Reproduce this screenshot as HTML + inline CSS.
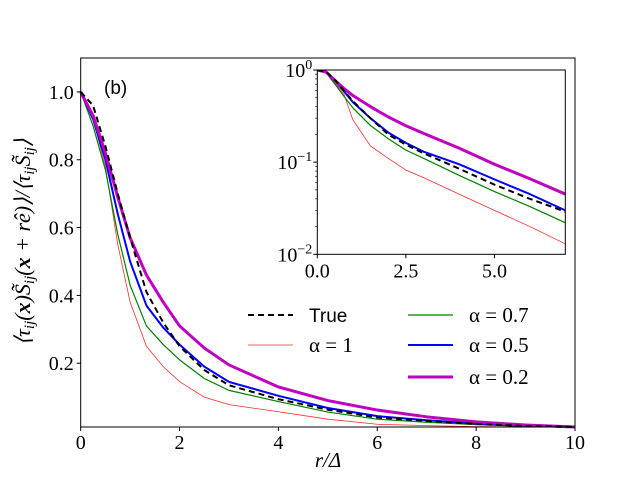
<!DOCTYPE html>
<html><head><meta charset="utf-8"><style>
body{margin:0;background:#fff}
svg{display:block;font-family:"Liberation Serif",serif}
</style></head><body>
<svg id="chart" width="640" height="480" xmlns="http://www.w3.org/2000/svg"></svg>
<script>
const rVals=[0,0.25,0.5,0.75,1,1.33,1.67,2,2.5,3,4,5,6,7,8,9,10];
const trueVals=[1,0.96,0.84,0.70,0.57,0.41,0.32,0.25,0.18,0.135,0.094,0.063,0.04,0.03,0.021,0.015,0.012];
const a1Vals=[1,0.92,0.78,0.55,0.38,0.25,0.19,0.146,0.10,0.078,0.057,0.035,0.02,0.016,0.013,0.012,0.012];
const a07Vals=[1,0.90,0.77,0.58,0.43,0.31,0.255,0.21,0.155,0.12,0.087,0.056,0.035,0.026,0.019,0.014,0.012];
const a05Vals=[1,0.92,0.80,0.64,0.50,0.37,0.305,0.255,0.19,0.145,0.104,0.068,0.044,0.032,0.022,0.016,0.012];
const a02Vals=[1,0.93,0.82,0.69,0.57,0.46,0.38,0.31,0.245,0.195,0.13,0.09,0.062,0.042,0.027,0.018,0.012];
const insetR=[0,0.25,0.5,0.75,1,1.5,2,2.5,3,4,5,6,7];
const insetTrue=[1,0.96,0.78,0.60,0.46,0.30,0.20,0.155,0.125,0.085,0.057,0.040,0.029];
const insetA1=[1,0.93,0.72,0.55,0.29,0.15,0.11,0.082,0.068,0.045,0.030,0.020,0.013];
const insetA07=[1,0.93,0.70,0.52,0.39,0.25,0.18,0.135,0.11,0.072,0.048,0.033,0.022];
const insetA05=[1,0.94,0.76,0.59,0.45,0.30,0.21,0.162,0.13,0.095,0.065,0.045,0.030];
const insetA02=[1,0.95,0.77,0.63,0.53,0.40,0.31,0.248,0.205,0.142,0.095,0.066,0.045];
const xTicks=[0,2,4,6,8,10];
const yTicks=[0.2,0.4,0.6,0.8,1.0];
const insetXTicks=[0,2.5,5];
const insetYTicks=[0,-1,-2];

const svg=document.getElementById('chart');
const NS='http://www.w3.org/2000/svg';
function mk(tag,attrs,parent){const e=document.createElementNS(NS,tag);for(const k in attrs)e.setAttribute(k,attrs[k]);(parent||svg).appendChild(e);return e;}
const L=80.7,R=575,T=58,B=427;
const X=v=>L+(v-0)/(10-0)*(R-L);
const Y=v=>B-(v-0.012)/(1.10-0.012)*(B-T);
const iL=317.3,iR=565.3,iT=70,iB=254.3;
const IX=v=>iL+v/7*(iR-iL);
const IY=v=>iT+(-Math.log10(Math.max(v,1e-4)))/2*(iB-iT);

const series=[
 {vals:a1Vals,ivals:insetA1,color:'#ff2a2a',w:0.8,dash:null,name:'series-alpha-1'},
 {vals:a07Vals,ivals:insetA07,color:'#008000',w:1.2,dash:null,name:'series-alpha-0-7'},
 {vals:a05Vals,ivals:insetA05,color:'#0000ff',w:2,dash:null,name:'series-alpha-0-5'},
 {vals:a02Vals,ivals:insetA02,color:'#bf00bf',w:3,dash:null,name:'series-alpha-0-2'},
 {vals:trueVals,ivals:insetTrue,color:'#000',w:2,dash:'6,4',name:'series-true'}
];
const mainG=mk('g',{});


series.forEach(s=>{
 const p=mk('polyline',{points:rVals.map((r,i)=>X(r)+','+Y(s.vals[i])).join(' '),fill:'none',stroke:s.color,'stroke-width':s.w,'stroke-linejoin':'round'},mainG);
 if(s.dash)p.setAttribute('stroke-dasharray',s.dash);
 
 
});
const frame=mk('rect',{x:L,y:T,width:R-L,height:B-T,fill:'none',stroke:'#000','stroke-width':1});


xTicks.forEach(t=>{
 mk('line',{x1:X(t),x2:X(t),y1:B,y2:B+4,stroke:'#000'});
 const tx=mk('text',{x:X(t),y:B+22,'text-anchor':'middle','font-size':20},svg);tx.textContent=t;
 
 
});
yTicks.forEach(t=>{
 mk('line',{x1:L-4,x2:L,y1:Y(t),y2:Y(t),stroke:'#000'});
 const tx=mk('text',{x:L-7,y:Y(t)+7,'text-anchor':'end','font-size':20},svg);tx.textContent=t.toFixed(1);
 
 
});
mk('rect',{x:iL,y:iT,width:iR-iL,height:iB-iT,fill:'#fff',stroke:'none'});
const cp=mk('clipPath',{id:'ic'});mk('rect',{x:iL,y:iT,width:iR-iL,height:iB-iT},cp);
const insetG=mk('g',{'clip-path':'url(#ic)'});


series.forEach(s=>{
 const p=mk('polyline',{points:insetR.map((r,i)=>IX(r)+','+IY(s.ivals[i])).join(' '),fill:'none',stroke:s.color,'stroke-width':s.w,'stroke-linejoin':'round'},insetG);
 if(s.dash)p.setAttribute('stroke-dasharray',s.dash);
 
 
});
const iframe=mk('rect',{x:iL,y:iT,width:iR-iL,height:iB-iT,fill:'none',stroke:'#000','stroke-width':1});


insetXTicks.forEach(t=>{
 mk('line',{x1:IX(t),x2:IX(t),y1:iB,y2:iB+4,stroke:'#000'});
 const tx=mk('text',{x:IX(t),y:iB+23,'text-anchor':'middle','font-size':20});tx.textContent=t.toFixed(1);
 
 
});
insetYTicks.forEach(t=>{
 const y=IY(Math.pow(10,t));
 mk('line',{x1:iL-4,x2:iL,y1:y,y2:y,stroke:'#000'});
 const tx=mk('text',{x:iL-5,y:y+7,'text-anchor':'end','font-size':20});
 tx.innerHTML='10<tspan dy="-8" font-size="14">'+(t===0?'0':'\u2212'+(-t))+'</tspan>';
 
 
});
for(let d=0;d>-2;d--)for(let m=2;m<=9;m++){const y=IY(m*Math.pow(10,d-1));mk('line',{x1:iL-2,x2:iL,y1:y,y2:y,stroke:'#000','stroke-width':0.7});}
const leg=[
 {x:248,y:315,color:'#000',w:2,dash:'6,4',label:'True',sans:true},
 {x:248,y:345,color:'#ff2a2a',w:0.8,label:'α = 1'},
 {x:408,y:315,color:'#008000',w:1.2,label:'α = 0.7'},
 {x:408,y:345,color:'#0000ff',w:2,label:'α = 0.5'},
 {x:408,y:377,color:'#bf00bf',w:3,label:'α = 0.2'}
];
leg.forEach(l=>{
 const g=mk('g',{});
 
 
 const ln=mk('line',{x1:l.x,x2:l.x+45,y1:l.y,y2:l.y,stroke:l.color,'stroke-width':l.w},g);
 if(l.dash)ln.setAttribute('stroke-dasharray',l.dash);
 const tx=mk('text',{x:l.x+61,y:l.y+7,'font-size':21},g);
 if(l.sans){tx.setAttribute('font-family','Liberation Sans, sans-serif');tx.setAttribute('font-size','19');}
 tx.textContent=l.label;
});
</script>
<svg style="position:absolute;left:0;top:0" width="640" height="480">
<text x="104" y="94" font-family="Liberation Sans, sans-serif" font-size="19">(b)</text>
<text x="328" y="467" text-anchor="middle" font-family="Liberation Serif, serif" font-size="21" font-style="italic">r/Δ</text>
<text transform="translate(30,242) rotate(-90)" text-anchor="middle" font-family="Liberation Serif, serif" font-size="22" font-style="italic">⟨τ<tspan font-size="15" dy="4">ij</tspan><tspan dy="-4">(</tspan><tspan font-weight="bold">x</tspan>)S̃<tspan font-size="15" dy="4">ij</tspan><tspan dy="-4">(</tspan><tspan font-weight="bold">x</tspan> + rê)⟩/⟨τ<tspan font-size="15" dy="4">ij</tspan><tspan dy="-4">S̃</tspan><tspan font-size="15" dy="4">ij</tspan><tspan dy="-4">⟩</tspan></text>
</svg>
</body></html>
